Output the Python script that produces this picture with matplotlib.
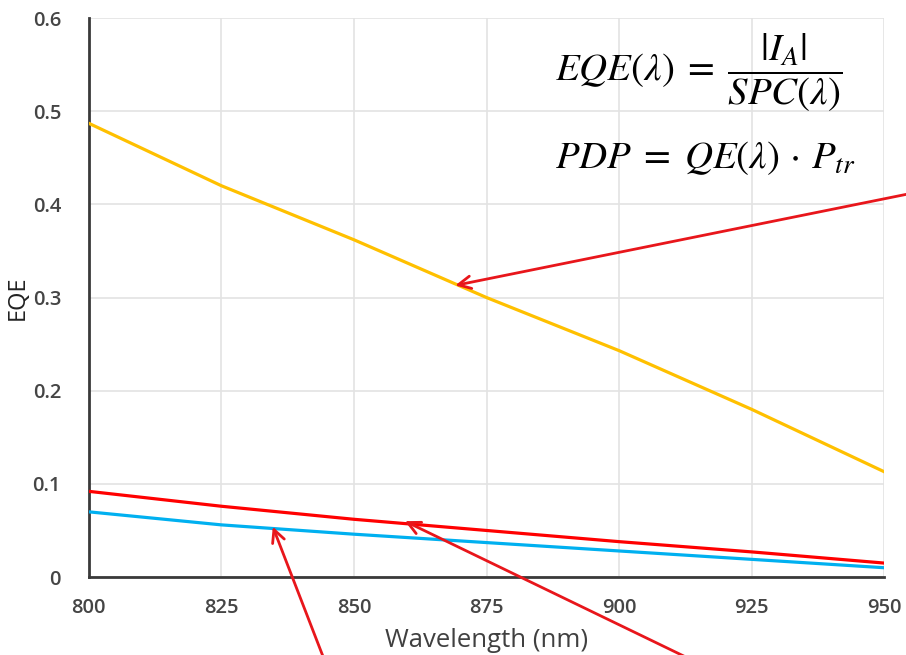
import matplotlib
matplotlib.use("Agg")
from matplotlib import pyplot as plt

wavelength = [800, 825, 850, 875, 900, 925, 950]
eqe_yellow = [0.487, 0.420, 0.362, 0.300, 0.243, 0.180, 0.113]
eqe_red = [0.092, 0.076, 0.062, 0.050, 0.038, 0.027, 0.015]
eqe_blue = [0.070, 0.056, 0.046, 0.037, 0.028, 0.019, 0.010]

x_ticks = [800, 825, 850, 875, 900, 925, 950]
y_ticks = [0, 0.1, 0.2, 0.3, 0.4, 0.5, 0.6]
y_tick_labels = ["0", "0.1", "0.2", "0.3", "0.4", "0.5", "0.6"]

# arrow heads (data) and tails (figure pixels)
arrow_heads = [(869.1, 0.313), (834.7, 0.054), (859.6, 0.060)]
arrow_tails = [(908, 461), (324, -4), (694, -6)]


def main():
    plt.rcParams["font.family"] = ["Open Sans", "DejaVu Sans"]
    plt.rcParams["mathtext.fontset"] = "stix"
    fig = plt.figure(figsize=(9.06, 6.55), dpi=100)
    ax = fig.add_axes([0.098, 0.119, 0.878, 0.8535])

    ax.plot(wavelength, eqe_yellow, color="#FFC000", lw=2.3, zorder=3)
    ax.plot(wavelength, eqe_red, color="#FF0000", lw=2.3, zorder=3)
    ax.plot(wavelength, eqe_blue, color="#00B0F0", lw=2.3, zorder=3)

    ax.set_xlim(800, 950)
    ax.set_ylim(0, 0.6)
    ax.set_xticks(x_ticks)
    ax.set_yticks(y_ticks)
    ax.set_yticklabels(y_tick_labels)
    ax.grid(True, color="#e3e3e3", lw=1.2)
    ax.set_axisbelow(True)
    for side in ["top", "right"]:
        ax.spines[side].set_visible(False)
    for side in ["left", "bottom"]:
        ax.spines[side].set_color("#3a3a3a")
        ax.spines[side].set_linewidth(2)
    ax.tick_params(length=0, labelsize=14.5, colors="#454545")
    ax.tick_params(axis="x", pad=15)
    ax.tick_params(axis="y", pad=20)
    for lbl in ax.get_xticklabels() + ax.get_yticklabels():
        lbl.set_fontweight("semibold")
    ax.set_xlabel("Wavelength (nm)", fontsize=18.5, color="#404040", labelpad=7)
    ax.set_ylabel("EQE", fontsize=17, color="#222222", labelpad=2)

    fig.text(0.613, 0.888, r"$EQE(\lambda)\;=\;\dfrac{|I_A|}{SPC(\lambda)}$",
             fontsize=28, va="center", ha="left")
    fig.text(0.613, 0.758, r"$PDP\;=\;QE(\lambda)\,\cdot\,P_{tr}$",
             fontsize=28, va="center", ha="left")

    for head, tail in zip(arrow_heads, arrow_tails):
        ax.annotate("", xy=head, xycoords="data", xytext=tail,
                    textcoords="figure pixels", annotation_clip=False,
                    arrowprops=dict(arrowstyle="->,head_length=0.9,head_width=0.45",
                                    color="#E8161B", lw=2, shrinkA=0, shrinkB=0),
                    zorder=5)

    fig.savefig("out.png", dpi=100)


if __name__ == '__main__':
    main()
